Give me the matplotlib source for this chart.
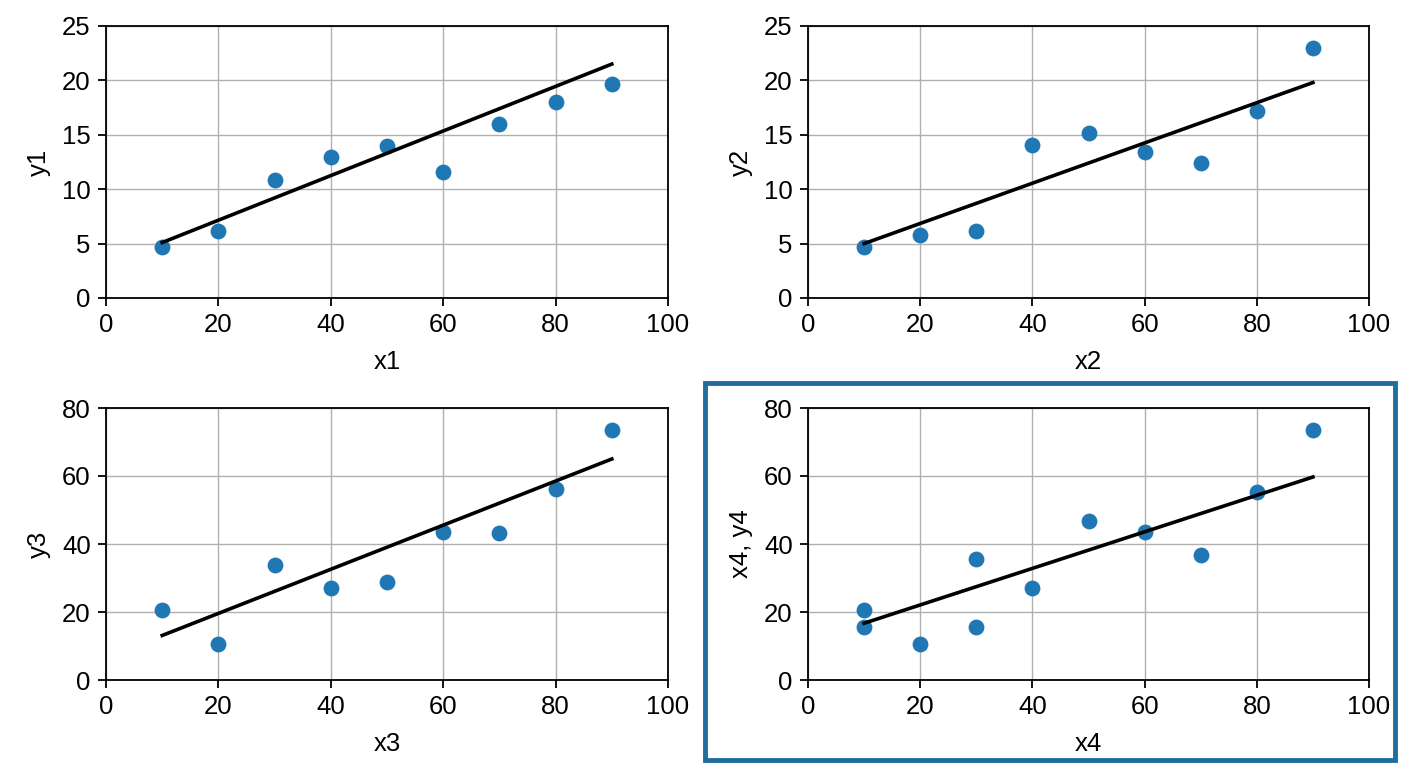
import matplotlib
matplotlib.use("Agg")
import matplotlib.pyplot as plt
from matplotlib.patches import Rectangle

plt.rcParams['font.family'] = ['Liberation Sans', 'DejaVu Sans']

# data
x = [10, 20, 30, 40, 50, 60, 70, 80, 90]
y1 = [4.7, 6.2, 10.8, 13.0, 14.0, 11.6, 16.0, 18.0, 19.7]
y2 = [4.7, 5.8, 6.2, 14.1, 15.2, 13.4, 12.4, 17.2, 23.0]
y3 = [20.7, 10.6, 33.9, 27.2, 28.8, 43.5, 43.2, 56.3, 73.4]
x4 = [10, 10, 20, 30, 30, 40, 50, 60, 70, 80, 90]
y4 = [20.7, 15.6, 10.7, 35.5, 15.6, 27.2, 46.9, 43.4, 36.7, 55.2, 73.4]

# fitted line end points (x = 10 and x = 90)
line_x = [10, 90]
line1 = [5.1, 21.5]
line2 = [5.0, 19.8]
line3 = [13.1, 65.0]
line4 = [16.7, 59.7]

panels = [
    (x, y1, line1, 'x1', 'y1', 25, [0, 5, 10, 15, 20, 25]),
    (x, y2, line2, 'x2', 'y2', 25, [0, 5, 10, 15, 20, 25]),
    (x, y3, line3, 'x3', 'y3', 80, [0, 20, 40, 60, 80]),
    (x4, y4, line4, 'x4', 'x4, y4', 80, [0, 20, 40, 60, 80]),
]

W, H = 1408, 768
fig = plt.figure(figsize=(W / 100, H / 100), dpi=100)

# axes boxes in pixels: left, top, right, bottom
boxes = [(106, 26, 668, 298), (808, 26, 1369, 298),
         (106, 408, 668, 680), (808, 408, 1369, 680)]

for (px, py, ly, xl, yl, ymax, yt), (l, t, r, b) in zip(panels, boxes):
    ax = fig.add_axes([l / W, 1 - b / H, (r - l) / W, (b - t) / H])
    ax.grid(True, color='#b0b0b0', linewidth=1.0, zorder=0)
    ax.scatter(px, py, s=130, color='#1f77b4', zorder=3, linewidths=0)
    ax.plot(line_x, ly, color='black', linewidth=2.6, zorder=4)
    ax.set_xlim(0, 100)
    ax.set_ylim(0, ymax)
    ax.set_xticks([0, 20, 40, 60, 80, 100])
    ax.set_yticks(yt)
    ax.tick_params(labelsize=18.5, length=6, width=1.3, direction='out', pad=5)
    for s in ax.spines.values():
        s.set_linewidth(1.3)
    ax.set_xlabel(xl, fontsize=18.5, labelpad=9)
    ax.set_ylabel(yl, fontsize=18.5, labelpad=8)

# highlight box around the last panel
fig.patches.append(Rectangle((705 / W, 1 - 760 / H), (1395 - 705) / W, (760 - 383) / H,
                             transform=fig.transFigure, fill=False,
                             edgecolor='#1f6e9e', linewidth=3.5))

fig.savefig('out.png', dpi=100)
